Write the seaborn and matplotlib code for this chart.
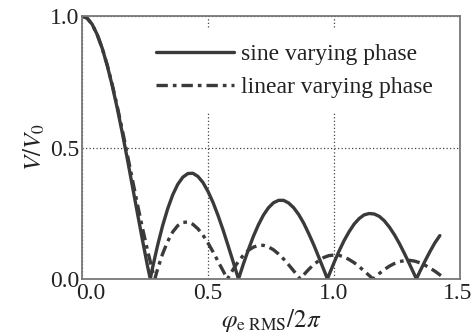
import numpy as np
import pandas as pd
import matplotlib
matplotlib.use("Agg")
import matplotlib.pyplot as plt
import matplotlib.transforms as mtransforms
import seaborn as sns

# --- data ---
sine_x = [0.00, 0.02, 0.04, 0.06, 0.08, 0.10, 0.12, 0.14, 0.16, 0.18, 0.20, 0.22, 0.24, 0.26, 0.271,
          0.28, 0.30, 0.32, 0.34, 0.36, 0.38, 0.40, 0.42, 0.44, 0.46, 0.48, 0.50, 0.52, 0.54, 0.56,
          0.58, 0.60, 0.621, 0.64, 0.66, 0.68, 0.70, 0.72, 0.74, 0.76, 0.78, 0.80, 0.82, 0.84, 0.86,
          0.88, 0.90, 0.92, 0.94, 0.96, 0.974, 0.98, 1.00, 1.02, 1.04, 1.06, 1.08, 1.10, 1.12, 1.14,
          1.16, 1.18, 1.20, 1.22, 1.24, 1.26, 1.28, 1.30, 1.32, 1.327, 1.34, 1.36, 1.38, 1.40, 1.42]
sine_v = [1.000, 0.992, 0.969, 0.930, 0.878, 0.812, 0.735, 0.649, 0.555, 0.456, 0.353, 0.250, 0.148, 0.049, 0.000,
          0.043, 0.128, 0.203, 0.267, 0.320, 0.360, 0.387, 0.401, 0.402, 0.390, 0.367, 0.333, 0.291, 0.241, 0.186,
          0.126, 0.065, 0.000, 0.056, 0.111, 0.162, 0.206, 0.243, 0.271, 0.290, 0.299, 0.299, 0.289, 0.271, 0.245,
          0.212, 0.172, 0.129, 0.082, 0.034, 0.000, 0.015, 0.062, 0.106, 0.146, 0.180, 0.209, 0.230, 0.244, 0.249,
          0.247, 0.238, 0.221, 0.197, 0.168, 0.134, 0.096, 0.056, 0.015, 0.000, 0.027, 0.066, 0.103, 0.137, 0.165]

lin_x = [0.00, 0.02, 0.04, 0.06, 0.08, 0.10, 0.12, 0.14, 0.16, 0.18, 0.20, 0.22, 0.24, 0.26, 0.28, 0.289,
         0.30, 0.32, 0.34, 0.36, 0.38, 0.40, 0.42, 0.44, 0.46, 0.48, 0.50, 0.52, 0.54, 0.56, 0.577,
         0.60, 0.62, 0.64, 0.66, 0.68, 0.70, 0.72, 0.74, 0.76, 0.78, 0.80, 0.82, 0.84, 0.866,
         0.88, 0.90, 0.92, 0.94, 0.96, 0.98, 1.00, 1.02, 1.04, 1.06, 1.08, 1.10, 1.12, 1.14, 1.155,
         1.18, 1.20, 1.22, 1.24, 1.26, 1.28, 1.30, 1.32, 1.34, 1.36, 1.38, 1.40, 1.42, 1.44]
lin_v = [1.000, 0.992, 0.969, 0.930, 0.878, 0.814, 0.739, 0.656, 0.566, 0.473, 0.378, 0.284, 0.193, 0.109, 0.031, 0.000,
         0.038, 0.096, 0.143, 0.179, 0.203, 0.215, 0.217, 0.208, 0.191, 0.167, 0.137, 0.103, 0.067, 0.031, 0.000,
         0.037, 0.066, 0.090, 0.109, 0.121, 0.128, 0.128, 0.122, 0.111, 0.095, 0.076, 0.054, 0.031, 0.000,
         0.016, 0.037, 0.055, 0.070, 0.082, 0.089, 0.091, 0.090, 0.084, 0.074, 0.062, 0.047, 0.030, 0.013, 0.000,
         0.021, 0.036, 0.049, 0.059, 0.066, 0.070, 0.071, 0.068, 0.062, 0.053, 0.042, 0.030, 0.016, 0.002]

x_ticks = [0.0, 0.5, 1.0, 1.5]
y_ticks = [0.0, 0.5, 1.0]
tick_labels_x = ["0.0", "0.5", "1.0", "1.5"]
tick_labels_y = ["0.0", "0.5", "1.0"]
labels = ["sine varying phase", "linear varying phase"]

sns.set_style("white")
plt.rcParams["font.family"] = ["Liberation Serif", "DejaVu Serif"]
plt.rcParams["mathtext.fontset"] = "stix"

fig = plt.figure(figsize=(4.73, 3.36), dpi=100)
ax = fig.add_axes([82 / 473, 1 - 279 / 336, 378 / 473, 263 / 336])

line_col = "#3a3a3a"
df_s = pd.DataFrame({"x": sine_x, "v": sine_v})
df_l = pd.DataFrame({"x": lin_x, "v": lin_v})
sns.lineplot(data=df_s, x="x", y="v", ax=ax, color=line_col, lw=2.4,
             label=labels[0], sort=False, estimator=None)
sns.lineplot(data=df_l, x="x", y="v", ax=ax, color=line_col, lw=2.4,
             linestyle=(0, (3.4, 1.5, 1.1, 1.5)), label=labels[1], sort=False, estimator=None)

ax.set_xlim(0, 1.5)
ax.set_ylim(0, 1.0)
ax.set_xticks(x_ticks)
ax.set_xticklabels(tick_labels_x)
ax.set_yticks(y_ticks)
ax.set_yticklabels(tick_labels_y)
ax.tick_params(axis="both", length=0, labelsize=17, colors="#222222")
ax.tick_params(axis="x", pad=3)
ax.tick_params(axis="y", pad=2)
# shift first x tick label to the right like in the reference
lbl0 = ax.get_xticklabels()[0]
lbl0.set_transform(lbl0.get_transform() + mtransforms.ScaledTranslation(9 / 100, 0, fig.dpi_scale_trans))
# pull the last one slightly left so it stays inside the canvas
lblN = ax.get_xticklabels()[-1]
lblN.set_transform(lblN.get_transform() + mtransforms.ScaledTranslation(-2 / 100, 0, fig.dpi_scale_trans))

ax.grid(True, linestyle=(0, (1.0, 1.8)), color="#444444", lw=0.9)
for s in ax.spines.values():
    s.set_color("#777777")
    s.set_linewidth(1.3)

ax.set_xlabel(r"$\varphi_{\mathrm{e\ RMS}}/2\pi$", fontsize=18, labelpad=2, color="#222222")
ax.set_ylabel(r"$V/V_0$", fontsize=18, labelpad=2, color="#222222")

leg = ax.legend(loc="upper left", bbox_to_anchor=(0.155, 0.952), borderaxespad=0,
                fontsize=17, handlelength=3.3, handletextpad=0.3, labelspacing=0.46,
                frameon=True, framealpha=1, facecolor="white", edgecolor="none",
                borderpad=0.65)
for t in leg.get_texts():
    t.set_color("#222222")

fig.savefig("out.png", dpi=100)
